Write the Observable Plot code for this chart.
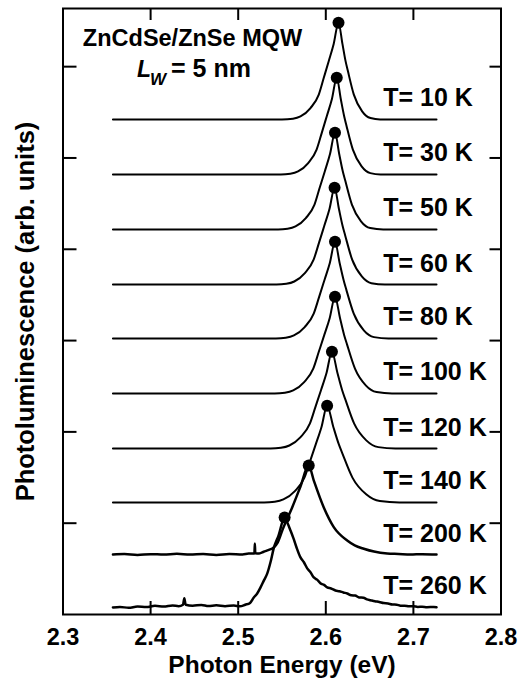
<!DOCTYPE html>
<html>
<head>
<meta charset="utf-8">
<script src="https://cdn.jsdelivr.net/npm/d3@7"></script>
<script src="https://cdn.jsdelivr.net/npm/@observablehq/plot@0.6"></script>
<style>
  html, body { margin: 0; padding: 0; background: #fff; }
  #chart svg { display: block; }
</style>
</head>
<body>
<div id="chart"></div>
<script>
// ---------- data ----------
const xTickValues = [2.3, 2.4, 2.5, 2.6, 2.7, 2.8];
const xInnerTicks = [2.4, 2.5, 2.6, 2.7];
const yTickValues = [1, 2, 3, 4, 5, 6];

const temperatures = ["10 K", "30 K", "50 K", "60 K", "80 K", "100 K", "120 K", "140 K", "200 K", "260 K"];
// vertical offset of each spectrum (arb. units)
const baselines = [5.422, 4.819, 4.217, 3.614, 3.023, 2.421, 1.818, 1.227, 0.657, 0.077];
// peak positions (eV) and peak heights above baseline (arb. units)
const peakEnergy = [2.6145, 2.6125, 2.6105, 2.6100, 2.6105, 2.6105, 2.6070, 2.6015, 2.5805, 2.5530];
const peakHeight = [1.06, 1.06, 1.06, 1.06, 1.06, 1.06, 1.06, 1.06, 0.975, 0.985];

// spectra: [photon energy (eV), intensity above baseline]
const pl10K = [[2.357,0],[2.55,0],[2.5625,0.008],[2.5711,0.033],[2.5825,0.125],[2.592,0.272],[2.5977,0.456],[2.6034,0.641],[2.609,0.827],[2.6145,1.06],[2.619,0.827],[2.6225,0.641],[2.6251,0.535],[2.632,0.272],[2.6415,0.089],[2.651,0.015],[2.662,0],[2.7264,0]];
const pl30K = [[2.357,0],[2.5487,0],[2.5595,0.008],[2.5683,0.033],[2.5799,0.125],[2.5895,0.272],[2.5954,0.456],[2.6012,0.641],[2.607,0.827],[2.6125,1.06],[2.6171,0.827],[2.6209,0.641],[2.6236,0.535],[2.6309,0.272],[2.6409,0.089],[2.6508,0.015],[2.6625,0],[2.7264,0]];
const pl50K = [[2.357,0],[2.5455,0],[2.5564,0.008],[2.5654,0.033],[2.5772,0.125],[2.5871,0.272],[2.593,0.456],[2.599,0.641],[2.6048,0.827],[2.6105,1.06],[2.6153,0.827],[2.6193,0.641],[2.6222,0.535],[2.6298,0.272],[2.6402,0.089],[2.6507,0.015],[2.6655,0],[2.7264,0]];
const pl60K = [[2.357,0],[2.5437,0],[2.5549,0.008],[2.564,0.033],[2.5761,0.125],[2.5861,0.272],[2.5922,0.456],[2.5982,0.641],[2.6042,0.827],[2.61,1.06],[2.615,0.827],[2.6192,0.641],[2.6222,0.535],[2.6301,0.272],[2.6411,0.089],[2.652,0.015],[2.6675,0],[2.7264,0]];
const pl80K = [[2.357,0],[2.543,0],[2.5543,0.008],[2.5636,0.033],[2.5759,0.125],[2.5862,0.272],[2.5924,0.456],[2.5985,0.641],[2.6046,0.827],[2.6105,1.06],[2.6158,0.827],[2.6203,0.641],[2.6234,0.535],[2.6319,0.272],[2.6434,0.089],[2.655,0.015],[2.6715,0],[2.7264,0]];
const pl100K = [[2.357,0],[2.5417,0],[2.5533,0.008],[2.5628,0.033],[2.5753,0.125],[2.5857,0.272],[2.592,0.456],[2.5983,0.641],[2.6045,0.827],[2.6105,1.06],[2.6162,0.827],[2.6209,0.641],[2.6243,0.535],[2.6333,0.272],[2.6456,0.089],[2.658,0.015],[2.6755,0],[2.7264,0]];
const pl120K = [[2.357,0],[2.537,0],[2.5488,0.008],[2.5584,0.033],[2.5712,0.125],[2.5818,0.272],[2.5882,0.456],[2.5946,0.641],[2.6008,0.827],[2.607,1.06],[2.6133,0.827],[2.6186,0.641],[2.6224,0.535],[2.6324,0.272],[2.6462,0.089],[2.6599,0.015],[2.6795,0],[2.7264,0]];
const pl140K = [[2.357,0],[2.5296,0],[2.5417,0.008],[2.5516,0.033],[2.5647,0.125],[2.5756,0.272],[2.5822,0.456],[2.5887,0.641],[2.5951,0.827],[2.6015,1.06],[2.6086,0.827],[2.6147,0.641],[2.619,0.535],[2.6304,0.272],[2.6461,0.089],[2.6617,0.015],[2.684,0],[2.7264,0]];
const pl200K = [[2.357,0],[2.37,0.005],[2.385,-0.005],[2.40,0.004],[2.415,0],[2.43,0.008],[2.445,0],[2.46,0.006],[2.475,-0.004],[2.49,0.005],[2.505,0],[2.512,0.01],[2.5185,0.01],[2.519,0.12],[2.5195,0.015],[2.524,0.012],[2.5292,0.03],[2.535,0.05],[2.5406,0.077],[2.545,0.13],[2.5506,0.27],[2.5616,0.515],[2.5711,0.745],[2.5805,0.975],[2.5863,0.81],[2.5977,0.515],[2.6091,0.30],[2.6244,0.153],[2.633,0.10],[2.6434,0.063],[2.655,0.032],[2.6701,0.011],[2.683,0.006],[2.6967,0],[2.71,0.004],[2.7264,0]];
const pl260K = [[2.357,0],[2.365,0.006],[2.375,-0.004],[2.385,0.01],[2.395,0.004],[2.405,0.018],[2.415,0.01],[2.425,0.022],[2.432,0.014],[2.437,0.03],[2.4385,0.1],[2.44,0.03],[2.448,0.02],[2.458,0.028],[2.466,0.016],[2.475,0.024],[2.485,0.014],[2.495,0.022],[2.502,0.012],[2.508,0.03],[2.5135,0.05],[2.5178,0.11],[2.5215,0.15],[2.5255,0.22],[2.5295,0.3],[2.5331,0.37],[2.537,0.5],[2.5406,0.65],[2.5461,0.79],[2.553,0.985],[2.556,0.93],[2.5597,0.843],[2.563,0.76],[2.5665,0.66],[2.5711,0.548],[2.575,0.495],[2.579,0.425],[2.5825,0.385],[2.5863,0.329],[2.59,0.305],[2.595,0.258],[2.598,0.248],[2.6016,0.219],[2.606,0.208],[2.611,0.186],[2.6155,0.178],[2.62,0.164],[2.6244,0.153],[2.629,0.133],[2.6335,0.13],[2.638,0.11],[2.643,0.106],[2.647,0.088],[2.651,0.079],[2.656,0.068],[2.661,0.06],[2.666,0.048],[2.671,0.044],[2.676,0.033],[2.681,0.031],[2.6853,0.02],[2.69,0.02],[2.695,0.012],[2.70,0.014],[2.705,0.006],[2.71,0.009],[2.7155,0.003],[2.7233,0.006],[2.7264,0.002]];

const spectra = [pl10K, pl30K, pl50K, pl60K, pl80K, pl100K, pl120K, pl140K, pl200K, pl260K];
const noisyTemps = ["200 K", "260 K"];

const titleLine1 = "ZnCdSe/ZnSe MQW";
const wellSymbol = "L";
const wellSub = "W";
const wellValue = "= 5 nm";
const xLabel = "Photon Energy (eV)";
const yLabel = "Photoluminescence (arb. units)";

// ---------- tables built from the arrays ----------
const lineRows = spectra.flatMap((s, i) => s.map(([e, v]) => ({T: temperatures[i], E: e, I: baselines[i] + v})));
const smoothRows = lineRows.filter(d => !noisyTemps.includes(d.T));
const noisyRows = lineRows.filter(d => noisyTemps.includes(d.T));
const peakRows = temperatures.map((t, i) => ({T: t, E: peakEnergy[i], I: baselines[i] + peakHeight[i]}));
const labelRows = temperatures.map((t, i) => ({text: "T= " + t, I: baselines[i]}));

const LABEL_E = 2.6655;
const FONT = "'Liberation Sans', Arial, Helvetica, sans-serif";

const chart = Plot.plot({
  width: 519,
  height: 683,
  marginLeft: 62.5,
  marginRight: 18.5,
  marginTop: 8,
  marginBottom: 69,
  style: {fontFamily: FONT, color: "#000", background: "#fff"},
  x: {domain: [2.3, 2.8]},
  y: {domain: [0, 6.637]},
  marks: [
    Plot.line(smoothRows, {x: "E", y: "I", z: "T", stroke: "#000", strokeWidth: 2, curve: "monotone-x"}),
    Plot.line(noisyRows, {x: "E", y: "I", z: "T", stroke: "#000", strokeWidth: 2.5, curve: "monotone-x"}),
    Plot.dot(peakRows, {x: "E", y: "I", r: 6, fill: "#000"}),
    Plot.text(labelRows, {x: () => LABEL_E, y: "I", text: "text", textAnchor: "start", lineAnchor: "bottom", dy: -13, fontSize: 25, fontWeight: "bold", fill: "#000"}),
    // inward ticks
    Plot.axisX(xInnerTicks, {anchor: "bottom", tickSize: -13, strokeWidth: 2, tickFormat: () => "", label: null}),
    Plot.axisX(xInnerTicks, {anchor: "top", tickSize: -11, strokeWidth: 2, tickFormat: () => "", label: null}),
    Plot.axisY(yTickValues, {anchor: "left", tickSize: -14, strokeWidth: 2, tickFormat: () => "", label: null}),
    Plot.axisY(yTickValues, {anchor: "right", tickSize: -12, strokeWidth: 2, tickFormat: () => "", label: null}),
    // tick labels
    Plot.axisX(xTickValues, {anchor: "bottom", tickSize: 0, tickPadding: 14, fontSize: 23.5, fontWeight: "bold", tickFormat: d3.format(".1f"), label: null, fill: "#000"}),
    Plot.frame({stroke: "#000", strokeWidth: 2}),
    // axis titles
    Plot.text([xLabel], {frameAnchor: "bottom", dy: 58, lineAnchor: "bottom", textAnchor: "middle", fontSize: 24.5, fontWeight: "bold", fill: "#000"}),
    Plot.text([yLabel], {frameAnchor: "left", dx: -37, rotate: -90, textAnchor: "middle", lineAnchor: "middle", fontSize: 25.5, fontWeight: "bold", fill: "#000"}),
    // in-plot annotation
    Plot.text([titleLine1], {frameAnchor: "top-left", dx: 129.5, dy: 37, lineAnchor: "bottom", textAnchor: "middle", fontSize: 23.5, fontWeight: "bold", fill: "#000"}),
    Plot.text([wellSymbol], {frameAnchor: "top-left", dx: 74, dy: 68, lineAnchor: "bottom", textAnchor: "start", fontSize: 23, fontWeight: "bold", fontStyle: "italic", fill: "#000"}),
    Plot.text([wellSub], {frameAnchor: "top-left", dx: 87, dy: 76, lineAnchor: "bottom", textAnchor: "start", fontSize: 17, fontWeight: "bold", fontStyle: "italic", fill: "#000"}),
    Plot.text([wellValue], {frameAnchor: "top-left", dx: 108, dy: 68, lineAnchor: "bottom", textAnchor: "start", fontSize: 25, fontWeight: "bold", fill: "#000"})
  ]
});
document.getElementById("chart").appendChild(chart);
</script>
</body>
</html>
